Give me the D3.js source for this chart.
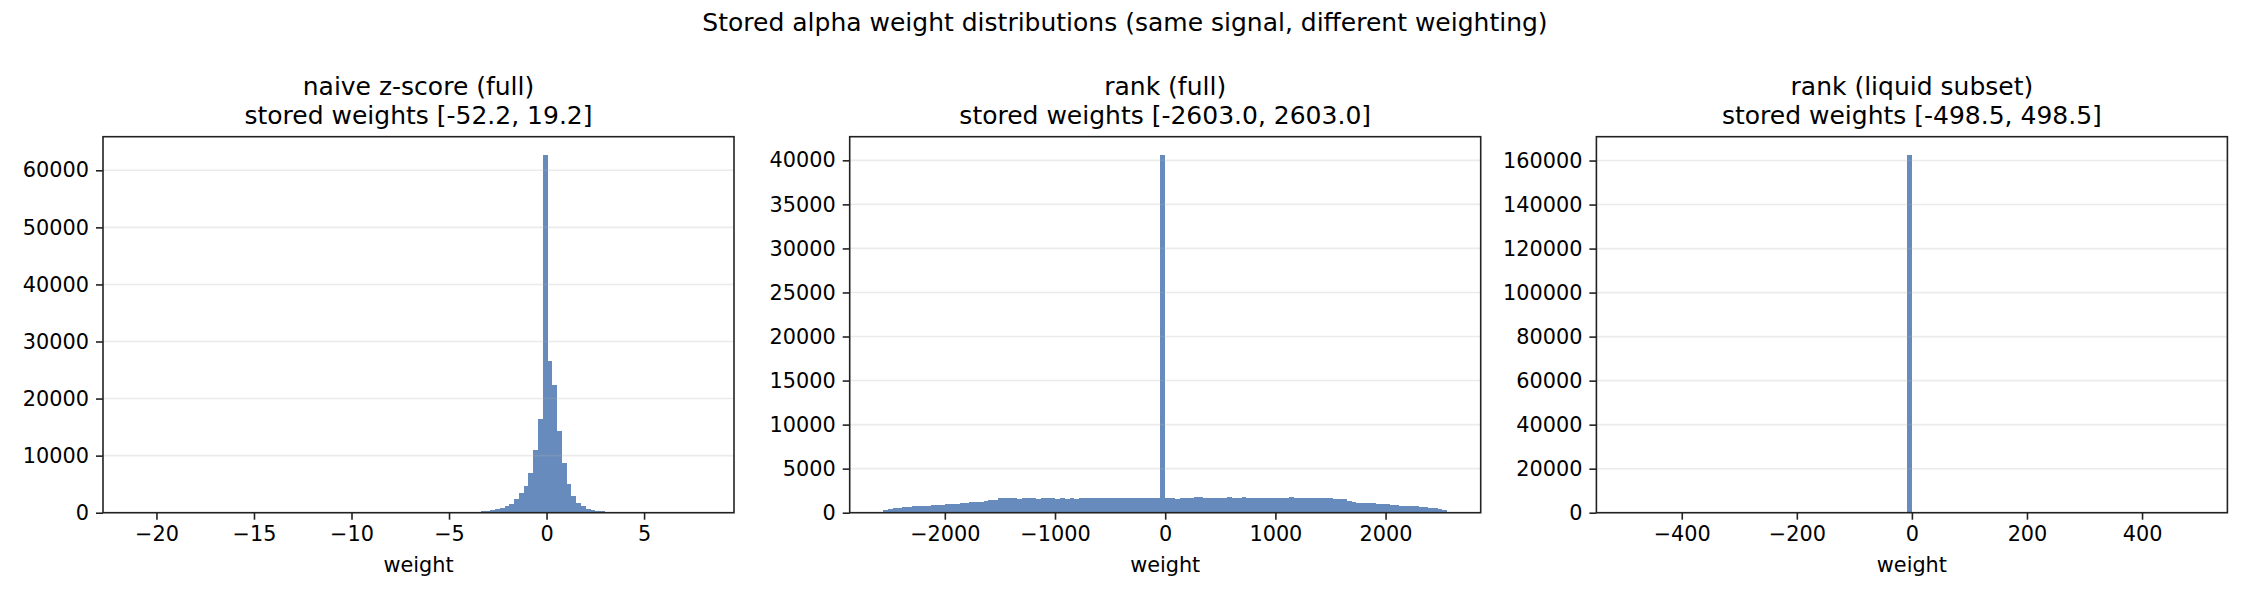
<!DOCTYPE html>
<html>
<head>
<meta charset="utf-8">
<script src="https://cdn.jsdelivr.net/npm/d3@7"></script>
<style>
  body { margin: 0; background: #fff; }
  svg { display: block; }
  text { font-family: "DejaVu Sans", sans-serif; fill: #000; }
</style>
</head>
<body>
<div id="chart"></div>
<script>
// figure texts
const figTitle = "Stored alpha weight distributions (same signal, different weighting)";
const panelTitles = [
    ["naive z-score (full)", "stored weights [-52.2, 19.2]"],
    ["rank (full)", "stored weights [-2603.0, 2603.0]"],
    ["rank (liquid subset)", "stored weights [-498.5, 498.5]"]
];
const xLabel = "weight";

// histogram range (first and last bin edge) for each panel, 120 bins each
const binRanges = [[-21.27, 8.14], [-2603.0, 2603.0], [-498.5, 498.5]];

// bin counts
const zscoreCounts = [
    2, 0, 0, 0, 0, 0, 0, 0, 0, 0,
    0, 0, 0, 0, 0, 0, 0, 0, 0, 0,
    0, 0, 0, 0, 0, 0, 0, 0, 0, 0,
    0, 0, 0, 0, 0, 0, 0, 0, 0, 0,
    0, 0, 0, 1, 1, 1, 2, 2, 3, 4,
    5, 6, 8, 10, 12, 15, 18, 22, 27, 33,
    40, 48, 57, 67, 78, 90, 100, 110, 120, 135,
    150, 170, 200, 260, 340, 450, 620, 900, 1250, 1600,
    2330, 3400, 4600, 6950, 10900, 16500, 62750, 26500, 22450, 14400,
    8650, 4950, 2850, 1650, 1100, 620, 540, 310, 270, 150,
    110, 80, 60, 45, 35, 26, 20, 15, 12, 9,
    7, 5, 4, 3, 2, 2, 1, 1, 1, 3
];
const rankFullCounts = [
    0, 265, 420, 490, 490, 600, 600, 720, 720, 720,
    720, 830, 900, 900, 950, 950, 950, 1060, 1060, 1170,
    1170, 1250, 1360, 1480, 1480, 1630, 1630, 1630, 1630, 1550,
    1630, 1630, 1630, 1550, 1630, 1630, 1630, 1550, 1630, 1520,
    1630, 1550, 1630, 1630, 1630, 1630, 1700, 1630, 1630, 1630,
    1700, 1630, 1630, 1700, 1630, 1630, 1700, 1630, 1630, 40650,
    1630, 1630, 1520, 1630, 1630, 1630, 1740, 1740, 1630, 1630,
    1630, 1630, 1630, 1740, 1630, 1630, 1740, 1630, 1630, 1630,
    1630, 1630, 1630, 1630, 1630, 1630, 1740, 1630, 1630, 1630,
    1630, 1630, 1630, 1630, 1630, 1520, 1520, 1520, 1330, 1210,
    1100, 1100, 1100, 1100, 985, 985, 985, 870, 870, 760,
    760, 760, 760, 640, 640, 530, 530, 420, 300, 0
];
const rankLiquidCounts = [
    0, 0, 0, 0, 0, 0, 0, 0, 0, 0,
    0, 0, 0, 0, 0, 0, 0, 0, 0, 0,
    0, 0, 0, 0, 0, 0, 0, 0, 0, 0,
    0, 0, 0, 0, 0, 0, 0, 0, 0, 0,
    0, 0, 0, 0, 0, 0, 0, 0, 0, 0,
    0, 0, 0, 0, 0, 0, 0, 0, 0, 162700,
    0, 0, 0, 0, 0, 0, 0, 0, 0, 0,
    0, 0, 0, 0, 0, 0, 0, 0, 0, 0,
    0, 0, 0, 0, 0, 0, 0, 0, 0, 0,
    0, 0, 0, 0, 0, 0, 0, 0, 0, 0,
    0, 0, 0, 0, 0, 0, 0, 0, 0, 0,
    0, 0, 0, 0, 0, 0, 0, 0, 0, 0
];

// tick values
const xTicks = [
    [-20, -15, -10, -5, 0, 5],
    [-2000, -1000, 0, 1000, 2000],
    [-400, -200, 0, 200, 400]
];
const yTicks = [
    [0, 10000, 20000, 30000, 40000, 50000, 60000],
    [0, 5000, 10000, 15000, 20000, 25000, 30000, 35000, 40000],
    [0, 20000, 40000, 60000, 80000, 100000, 120000, 140000, 160000]
];

const W = 2250, H = 600;
const panelLefts = [103, 849.7, 1596.4];
const panelWidth = 631;
const panelTop = 136.7, panelBottom = 512.7;
const barColor = "#678bbc";

const svg = d3.select("#chart").append("svg")
    .attr("width", W)
    .attr("height", H);

svg.append("text")
    .attr("x", W / 2)
    .attr("y", 31)
    .attr("text-anchor", "middle")
    .style("font-size", "25px")
    .text(figTitle);

function fmtTick(v) {
    return v < 0 ? "\u2212" + Math.abs(v) : String(v);
}

function plotHistogram(i, counts) {
    const [lo, hi] = binRanges[i];
    const n = counts.length;
    const pad = (hi - lo) * 0.05;
    const width = panelWidth;
    const height = panelBottom - panelTop;

    const g = svg.append("g")
        .attr("transform", `translate(${panelLefts[i]},${panelTop})`);

    const x = d3.scaleLinear()
        .domain([lo - pad, hi + pad])
        .range([0, width]);

    const y = d3.scaleLinear()
        .domain([0, d3.max(counts) * 1.05])
        .range([height, 0]);

    const bins = counts.map((c, k) => ({
        x0: lo + (hi - lo) * k / n,
        x1: lo + (hi - lo) * (k + 1) / n,
        count: c
    }));

    // bars
    g.append("g")
        .selectAll("rect")
        .data(bins.filter(d => d.count > 0))
        .enter().append("rect")
        .attr("x", d => x(d.x0))
        .attr("width", d => x(d.x1) - x(d.x0))
        .attr("y", d => y(d.count))
        .attr("height", d => y(0) - y(d.count))
        .attr("fill", barColor)
        .attr("shape-rendering", "crispEdges");

    // horizontal grid sits above the bars (matplotlib default)
    g.append("g")
        .selectAll("line")
        .data(yTicks[i])
        .enter().append("line")
        .attr("x1", 0)
        .attr("x2", width)
        .attr("y1", d => y(d))
        .attr("y2", d => y(d))
        .attr("stroke", "#b0b0b0")
        .attr("stroke-opacity", 0.25)
        .attr("stroke-width", 1.6);

    // axes
    const xAxis = g.append("g")
        .attr("transform", `translate(0,${height})`)
        .call(d3.axisBottom(x).tickValues(xTicks[i]).tickFormat(fmtTick).tickSizeOuter(0).tickSizeInner(7).tickPadding(6));
    const yAxis = g.append("g")
        .call(d3.axisLeft(y).tickValues(yTicks[i]).tickFormat(fmtTick).tickSizeOuter(0).tickSizeInner(7).tickPadding(7));

    [xAxis, yAxis].forEach(ax => {
        ax.select(".domain").remove();
        ax.selectAll("line").attr("stroke", "#222").attr("stroke-width", 1.6);
        ax.selectAll("text")
            .style("font-size", "20.8px")
            .style("font-family", "'DejaVu Sans', sans-serif")
            .attr("fill", "#000");
    });
    xAxis.selectAll("text").attr("dy", "0.76em");

    // frame
    g.append("rect")
        .attr("x", 0)
        .attr("y", 0)
        .attr("width", width)
        .attr("height", height)
        .attr("fill", "none")
        .attr("stroke", "#222")
        .attr("stroke-width", 1.6);

    // titles
    const t = g.append("text")
        .attr("x", width / 2)
        .attr("text-anchor", "middle")
        .style("font-size", "25px");
    t.append("tspan").attr("x", width / 2).attr("y", -41.5).text(panelTitles[i][0]);
    t.append("tspan").attr("x", width / 2).attr("y", -12.5).text(panelTitles[i][1]);

    g.append("text")
        .attr("x", width / 2)
        .attr("y", height + 59)
        .attr("text-anchor", "middle")
        .style("font-size", "20.8px")
        .text(xLabel);
}

plotHistogram(0, zscoreCounts);
plotHistogram(1, rankFullCounts);
plotHistogram(2, rankLiquidCounts);
</script>
</body>
</html>
